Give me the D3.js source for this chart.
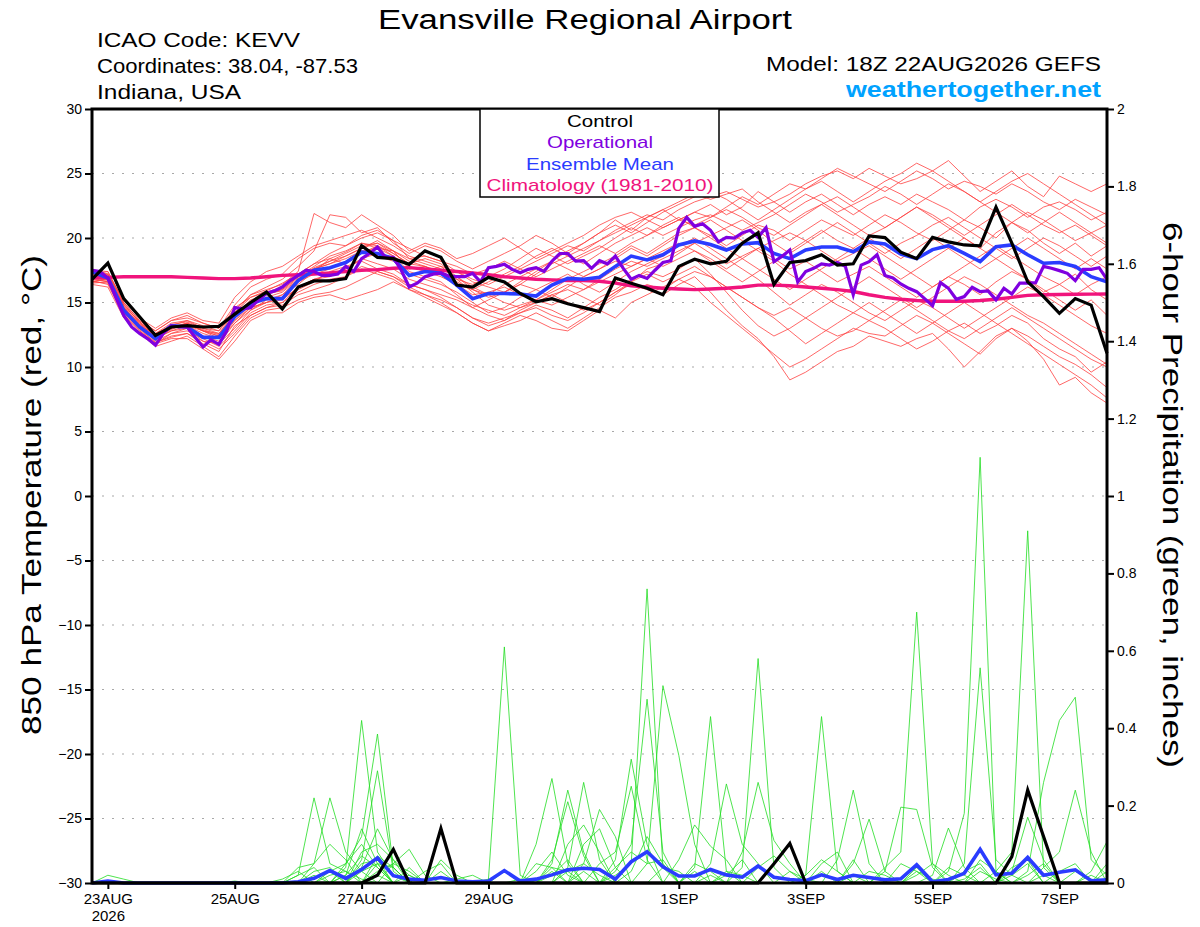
<!DOCTYPE html>
<html><head><meta charset="utf-8">
<script src="https://cdn.jsdelivr.net/npm/d3@7"></script>
<style>
body{margin:0;background:#fff}
svg{display:block}
text{font-family:"Liberation Sans",Arial,Helvetica,sans-serif}
</style>
</head><body>
<svg id="c" width="1200" height="927"></svg>
<script>
// ---------------- DATA ----------------
const runStart = Date.UTC(2026, 7, 22, 18);   // 18Z 22AUG2026
const forecastHours = 384;
const dateTickLabels = ["23AUG", "25AUG", "27AUG", "29AUG", "1SEP", "3SEP", "5SEP", "7SEP"];
const dateTickDays = ["2026-08-23", "2026-08-25", "2026-08-27", "2026-08-29", "2026-09-01", "2026-09-03", "2026-09-05", "2026-09-07"];
const tempTicks = [-30, -25, -20, -15, -10, -5, 0, 5, 10, 15, 20, 25, 30];
const precipTicks = [0, 0.2, 0.4, 0.6, 0.8, 1, 1.2, 1.4, 1.6, 1.8, 2];
const legendItems = ["Control", "Operational", "Ensemble Mean", "Climatology (1981-2010)"];

// 850 hPa temperature, 6-hourly
const controlTemp = [16.8,18.06,15.3,13.9,12.45,13.1,13.2,13.1,13.15,14.1,
 15.0,15.8,14.5,16.2,16.67,16.67,16.85,19.4,18.5,18.4,
 17.96,19.0,18.5,16.35,16.2,16.95,16.6,15.7,15.06,15.3,
 14.9,14.6,14.3,16.9,16.5,16.1,15.6,17.8,18.35,18.0,
 18.2,19.6,20.4,16.4,18.1,18.25,18.7,17.9,18.0,20.16,
 20.03,18.9,18.4,20.05,19.7,19.46,19.4,22.4,19.6,16.6,
 15.46,14.16,15.3,14.8,11.06];
const meanTemp = [17.4,16.9,14.4,13.1,12.2,13.2,13.1,12.3,12.3,13.9,
 14.9,15.3,15.3,16.7,17.5,17.7,18.1,18.9,18.8,18.4,
 17.1,17.4,17.26,16.35,15.3,15.7,15.7,15.66,15.5,16.35,
 16.87,16.8,16.95,17.8,18.6,18.3,18.7,19.46,19.77,19.5,
 19.07,19.54,19.64,18.8,18.4,19.07,19.3,19.3,18.94,19.7,
 19.54,18.76,18.4,19.1,19.4,18.8,18.17,19.33,19.46,18.7,
 18.04,18.1,17.8,17.0,16.6];
const climTemp = [16.9,16.95,17.0,17.0,17.0,17.0,16.95,16.9,16.85,16.85,
 16.9,17.0,17.1,17.15,17.2,17.3,17.4,17.5,17.55,17.65,
 17.7,17.6,17.5,17.4,17.3,17.15,17.0,16.9,16.8,16.75,
 16.7,16.7,16.65,16.5,16.3,16.2,16.1,16.05,16.0,16.05,
 16.1,16.2,16.35,16.35,16.3,16.2,16.1,16.0,15.85,15.6,
 15.4,15.25,15.15,15.1,15.1,15.1,15.15,15.25,15.4,15.55,
 15.6,15.62,15.64,15.65,15.66];
// operational run, 3-hourly
const operTemp = [17.5,17.4,16.9,15.4,14.0,13.1,12.6,12.2,11.7,12.6,
 13.2,13.1,13.1,12.3,11.55,12.1,11.75,12.8,14.6,14.5,
 14.6,15.2,15.7,15.9,16.2,16.7,17.1,17.5,17.4,17.1,
 17.1,17.2,17.8,17.4,18.4,18.8,19.3,18.5,18.5,17.5,
 16.2,16.5,17.0,17.2,17.3,17.05,17.0,17.0,17.26,16.6,
 17.7,17.8,17.96,17.57,17.3,17.57,17.7,17.4,18.2,18.8,
 18.8,18.2,18.24,17.65,18.24,18.0,18.6,17.65,16.8,17.1,
 16.87,17.5,18.1,18.24,20.75,21.6,20.9,21.1,20.6,19.7,
 20.05,20.0,20.4,20.6,20.05,20.8,18.17,18.56,19.07,16.6,
 17.4,17.65,18.0,17.9,18.1,17.8,15.6,17.9,18.17,18.7,
 17.1,16.9,16.44,16.1,15.84,15.3,14.75,16.54,16.1,15.25,
 15.46,16.18,15.84,15.9,15.2,16.1,15.66,16.5,16.5,16.54,
 17.8,17.65,17.47,17.26,16.7,17.57,17.57,17.7,16.8];
// ensemble members, 6-hourly
const memberTemps = [
 [17.0,17.2,14.8,13.5,12.6,13.4,13.6,13.2,12.8,14.6,15.4,15.9,16.5, 17.2,18.0,18.4,18.9,19.6,19.2,19.0,18.4,18.6,18.2,17.4,16.8, 16.4,17.0,17.6,18.2,18.8,19.4,19.0,19.8,20.6,21.2,21.8,21.4, 22.2,22.8,23.2,23.6,23.0,22.4,22.8,23.4,24.2,24.8,25.2,24.6, 25.4,24.8,24.2,24.6,25.2,26.0,24.8,23.6,24.4,25.2,24.0,23.2,24.8,24.2,23.6,24.2],
 [16.6,16.8,14.2,13.0,11.9,12.4,12.6,11.8,11.2,13.2,14.0,14.6,14.8, 15.6,16.0,16.4,17.0,17.6,17.2,16.8,16.0,15.6,15.2,14.6,13.8, 13.4,13.8,14.2,14.6,14.0,13.6,14.2,15.0,15.8,16.4,16.0,15.6, 16.4,17.0,15.8,14.4,13.2,12.2,10.8,9.0,9.6,10.4,11.2,11.6, 12.4,12.0,11.6,12.2,12.6,11.4,10.0,11.2,12.4,13.0,12.0,10.6,8.6,9.2,8.0,7.2],
 [17.4,17.0,14.6,13.0,12.2,13.0,13.4,12.8,12.6,14.0,15.2,15.6,16.0, 17.0,17.6,18.2,18.6,19.2,19.8,19.0,17.6,17.8,17.2,16.4,15.6, 15.8,16.2,15.6,15.2,16.0,16.8,17.4,18.0,18.6,19.4,18.8,19.6, 20.4,20.8,20.2,19.4,20.2,21.0,20.6,19.8,20.6,21.4,20.8,20.2, 21.0,21.8,21.2,20.4,19.8,20.6,21.4,20.8,20.0,21.2,22.0,21.4,20.6,19.8,20.4,19.6],
 [16.8,16.6,14.0,12.8,11.8,12.6,12.8,12.2,11.6,12.8,14.2,14.8,15.0, 16.2,16.8,17.2,17.6,18.4,18.8,18.4,17.0,17.4,17.8,16.8,15.8, 14.8,14.4,14.8,15.2,15.8,16.4,16.0,16.8,17.6,18.2,17.8,18.4, 19.0,19.6,18.8,18.0,18.6,19.2,18.4,17.6,18.2,17.4,16.6,17.2, 17.8,17.0,16.2,15.4,16.2,17.0,16.4,15.6,16.6,17.4,16.8,15.8,16.4,17.2,16.0,15.2],
 [17.2,17.4,15.0,13.6,12.8,13.6,13.8,13.4,13.0,14.4,15.6,16.2,16.8, 17.8,19.0,21.8,21.6,20.4,20.8,19.6,18.8,19.4,19.0,18.2,17.6, 18.2,18.8,19.4,20.2,19.6,18.8,19.6,20.4,21.4,20.6,21.6,22.2, 21.4,22.0,22.6,21.8,22.4,23.6,22.8,22.0,22.8,23.4,22.6,21.8, 22.6,23.2,22.6,23.4,22.8,22.2,21.4,22.4,23.0,22.4,21.6,22.4,22.8,22.2,21.4,22.0],
 [16.4,16.2,13.8,12.6,11.6,12.0,12.4,11.6,10.8,12.4,13.8,14.4,14.6, 15.2,15.6,15.8,16.2,16.8,17.4,17.0,16.2,15.6,15.0,14.2,13.4, 12.8,13.2,13.6,14.2,13.6,13.0,13.8,14.6,15.4,15.8,16.4,16.0, 16.8,17.4,17.0,16.2,15.4,14.6,14.0,14.6,13.8,13.0,12.4,12.8, 13.6,13.0,12.2,11.4,12.0,12.8,13.4,12.6,13.2,14.0,13.4,12.2,11.4,10.8,9.6,10.4],
 [17.6,17.2,15.2,13.8,13.0,13.8,14.2,13.6,13.4,15.4,16.6,17.4,17.8, 18.6,19.4,19.8,20.2,20.6,20.0,19.4,18.6,18.2,17.8,17.4,16.6, 16.2,15.8,16.4,17.2,18.0,18.6,19.2,19.8,20.4,21.0,21.6,22.2, 22.8,23.4,23.0,23.4,23.8,22.8,22.0,21.2,22.0,22.6,23.2,22.4, 21.6,20.8,21.6,22.4,21.6,20.8,20.0,19.2,20.4,21.2,20.6,19.6,18.8,19.6,18.6,19.4],
 [16.9,16.6,14.4,13.2,12.0,12.6,13.0,12.0,11.8,13.4,14.6,15.0,15.4, 16.6,17.2,17.6,18.2,19.0,18.6,18.2,17.2,16.8,16.4,15.8,15.0, 14.2,14.6,15.4,16.0,16.6,17.2,16.4,15.8,16.6,17.4,18.0,18.6, 19.4,20.0,19.2,18.4,17.6,16.8,15.8,14.8,15.6,16.4,15.8,15.0, 14.2,13.6,14.4,15.2,14.6,13.8,13.0,13.8,14.6,15.4,16.2,15.6,14.8,14.0,13.2,12.6],
 [17.0,17.0,14.6,13.4,12.4,13.2,13.2,12.6,12.2,13.8,15.0,15.2,15.6, 16.8,17.6,18.0,18.6,19.2,19.6,18.8,18.0,18.4,18.0,17.0,16.0, 15.6,15.0,14.6,15.0,15.6,16.0,15.4,14.8,15.6,16.6,17.6,18.0, 18.8,19.6,20.2,20.8,21.4,20.6,19.6,18.8,19.6,20.4,21.2,20.4, 19.6,18.8,19.6,20.2,21.0,21.6,20.8,20.0,19.2,18.4,19.2,20.0,19.4,18.6,17.8,18.6],
 [16.6,16.9,14.2,13.0,12.2,12.8,13.0,12.4,11.8,13.0,14.4,15.0,15.6, 16.4,17.4,18.4,18.0,18.8,19.4,18.6,17.4,17.0,16.6,15.6,14.6, 14.0,13.6,14.2,14.8,14.4,13.8,14.6,15.4,16.0,16.8,17.4,17.0, 17.6,18.4,17.2,15.8,14.4,13.2,12.4,13.0,13.8,14.6,15.4,16.2, 17.0,16.2,15.4,14.6,15.4,16.2,17.0,16.4,15.6,14.8,14.0,13.4,12.6,11.8,11.0,10.2],
 [17.3,17.2,14.9,13.4,12.6,13.2,13.6,13.0,12.8,14.2,15.6,16.0,16.4, 17.4,21.9,21.2,20.8,21.8,21.0,20.2,19.0,19.6,19.2,18.4,18.8, 19.4,20.0,19.2,18.4,19.0,19.6,20.2,21.0,21.6,22.0,21.4,20.8, 21.4,22.0,21.6,22.4,23.2,22.6,23.4,24.2,23.8,24.6,25.4,24.8, 24.2,23.6,24.4,25.2,24.6,23.8,24.4,24.0,23.4,24.2,23.6,22.8,22.2,23.0,22.4,21.8],
 [16.7,16.4,14.0,12.8,11.8,12.2,12.2,11.4,10.6,12.0,13.6,14.2,14.2, 15.0,15.4,15.6,15.2,15.6,16.0,16.6,16.0,15.4,14.8,14.2,13.4, 12.8,13.4,14.0,13.6,13.0,12.8,13.6,14.4,13.8,15.0,15.6,16.2, 16.8,16.2,15.0,14.0,13.0,12.0,11.0,10.0,10.6,11.4,12.2,13.0, 12.6,12.4,13.2,14.0,13.4,12.6,11.8,11.0,12.2,13.0,12.4,11.6,10.8,10.2,9.4,8.4],
 [17.1,16.8,14.4,13.0,12.2,12.8,13.2,12.8,12.4,13.6,14.8,15.4,15.8, 16.8,17.6,18.0,18.4,19.0,19.2,18.6,17.8,17.4,17.0,16.4,16.0, 16.6,17.2,17.8,18.6,19.2,18.6,18.0,18.8,19.6,20.2,20.8,20.2, 20.8,21.4,21.8,21.2,20.6,21.2,21.8,22.6,23.4,22.8,22.0,22.6, 23.2,24.0,23.4,22.6,23.4,24.2,23.6,22.8,23.6,24.4,25.0,24.2,23.4,22.6,21.8,21.0],
 [16.5,16.6,14.3,13.2,12.6,13.0,13.4,12.8,12.2,13.4,14.4,15.2,15.4, 16.0,16.6,17.4,17.8,18.2,17.6,17.2,16.4,16.0,15.6,15.2,14.6, 15.2,15.8,16.4,16.0,15.4,16.2,17.0,17.6,18.2,17.8,18.4,19.0, 19.6,19.0,18.4,17.6,18.4,19.2,19.8,20.4,19.8,19.0,18.2,18.8, 19.4,18.6,17.8,17.0,16.2,17.0,17.8,18.6,19.4,18.6,17.8,17.0,16.4,15.6,16.4,17.0],
 [17.5,17.4,15.0,13.6,12.8,13.6,14.0,13.4,13.0,14.8,16.2,16.8,17.2, 18.4,19.2,19.6,19.4,20.2,20.6,19.8,19.2,18.6,18.2,17.8,17.2, 17.6,18.2,17.6,17.0,17.6,18.2,18.8,19.4,18.8,19.6,20.2,20.8, 21.4,21.0,21.6,22.2,21.6,20.8,20.2,21.0,21.8,22.6,21.8,21.0, 20.2,20.8,21.6,22.4,21.8,21.0,20.2,21.0,21.8,22.6,21.8,21.0,20.4,21.0,20.2,19.4],
 [16.8,17.0,14.7,13.3,12.4,13.0,13.2,12.4,12.0,13.6,14.6,15.0,15.2, 16.2,16.8,17.0,17.6,18.4,18.0,17.6,16.8,16.4,16.0,15.4,14.8, 14.4,14.0,14.6,15.2,14.8,15.4,16.0,16.6,17.2,17.8,18.4,17.8, 18.4,19.0,18.2,17.4,16.6,17.4,18.2,17.2,16.4,15.6,14.8,14.2, 13.6,14.4,15.2,14.4,13.6,12.8,12.2,13.0,13.8,14.6,13.8,13.0,12.2,11.4,10.6,10.0],
 [17.0,16.7,14.5,13.1,12.3,12.9,13.4,12.8,12.4,14.0,15.0,15.8,16.2, 17.2,18.0,18.8,19.4,20.0,20.4,19.8,18.4,18.0,17.6,17.0,16.2, 15.6,16.4,17.0,17.6,18.2,17.6,17.0,17.6,18.4,19.2,18.6,19.4, 20.2,20.8,21.4,20.6,19.8,19.0,18.2,19.0,19.8,20.6,19.8,19.2, 20.0,19.2,18.4,19.2,20.0,19.2,18.4,17.6,18.4,19.2,20.0,19.2,18.4,17.6,18.4,17.6],
 [16.6,16.5,14.1,12.9,11.9,12.3,12.6,12.0,11.4,12.6,14.0,14.6,15.0, 15.8,16.4,16.8,17.0,17.8,17.4,17.0,16.4,16.0,15.4,14.6,13.8, 13.2,13.6,14.4,15.0,15.6,15.0,14.4,15.0,15.8,16.6,17.2,16.6, 17.2,17.8,17.0,16.2,15.4,14.6,13.8,12.8,11.8,12.6,13.4,14.2, 15.0,14.2,13.4,12.6,13.4,14.2,15.0,14.2,13.4,12.6,11.8,11.0,10.2,9.4,8.6,7.6],
 [17.2,17.1,14.8,13.5,12.5,13.3,13.5,13.0,12.6,14.2,15.4,15.8,16.0, 17.0,17.8,18.6,19.0,19.6,19.4,18.8,18.0,17.8,17.2,16.6,16.0, 15.4,15.8,16.6,17.4,18.2,19.0,19.6,20.4,21.0,20.4,21.2,22.0, 22.6,23.2,23.6,23.0,22.2,21.4,22.2,23.0,23.8,24.4,23.6,22.8, 23.6,24.4,25.0,25.8,25.2,24.4,23.6,22.8,22.0,21.2,20.4,21.2,22.0,21.2,20.4,21.0],
 [16.9,16.8,14.6,13.3,12.4,13.1,13.4,12.9,12.5,13.9,15.1,15.7,15.9, 16.9,17.7,18.2,18.8,19.4,19.6,19.0,18.2,17.8,17.4,16.8,16.4, 17.0,17.6,18.4,19.2,18.6,18.0,18.6,19.2,20.0,20.8,20.2,21.0, 21.6,20.8,20.0,19.2,18.4,17.6,16.8,16.0,16.8,17.6,18.4,19.2, 18.4,17.6,16.8,17.6,18.4,19.2,20.0,19.2,18.4,17.6,16.8,16.0,15.2,14.4,15.2,14.0]
];

// 6-hour precipitation (inches), 6-hourly
const controlPrecip = [0,0,0,0,0,0,0,0,0,0, 0,0,0,0,0,0,0,0,0.02,0.087, 0,0,0.141,0,0,0,0,0,0,0, 0,0,0,0,0,0,0,0,0,0,
 0,0,0,0.05,0.102,0,0,0,0,0, 0,0,0,0,0,0,0,0,0.068,0.24, 0.12,0,0,0,0];
const meanPrecip = [0,0.005,0,0,0,0,0,0,0,0, 0,0,0,0.003,0.012,0.032,0.012,0.035,0.065,0.019,
 0.01,0.007,0.014,0.005,0.003,0.005,0.032,0.005,0.01,0.021, 0.034,0.038,0.035,0.01,0.055,0.081,0.042,0.018,0.018,0.035,
 0.021,0.015,0.044,0.015,0.009,0.006,0.021,0.009,0.02,0.014, 0.008,0.011,0.047,0.003,0.009,0.025,0.087,0.021,0.025,0.066,
 0.02,0.028,0.034,0.006,0.008];
const memberPrecips = [
 [0,0,0,0,0,0,0,0,0,0, 0,0,0,0.02,0.22,0.05,0.03,0.01,0,0, 0,0,0,0,0,0.01,0.61,0.02,0,0, 0.03,0.05,0.02,0,0,0,0,0,0,0, 0,0,0,0,0,0.02,0.43,0.03,0,0, 0,0,0,0,0,0.01,0.04,0,0,0, 0,0,0,0,0],
 [0,0,0,0,0,0,0,0,0,0, 0,0,0,0,0,0,0.04,0.42,0.08,0.02, 0,0,0,0,0,0,0,0,0,0.02, 0.06,0,0,0.02,0.05,0.76,0.04,0,0,0.02, 0,0,0,0,0,0,0,0,0,0, 0,0,0.03,0.01,0,0,0.03,0.01,0,0, 0,0,0,0,0],
 [0,0,0,0,0,0,0,0,0,0, 0,0,0,0,0,0.03,0.05,0.12,0.385,0.04, 0,0,0,0,0,0,0,0,0.03,0.08, 0.02,0,0,0,0,0,0,0,0,0, 0,0.04,0.58,0.04,0,0,0,0,0.02,0, 0,0,0,0,0,0,0,0,0.02,0.05, 0,0,0,0,0],
 [0,0,0,0,0,0,0,0,0,0, 0,0,0,0,0.02,0,0,0.06,0.29,0.03, 0,0,0,0,0,0,0,0,0,0, 0,0.10,0.14,0.04,0,0,0,0,0.03,0, 0,0,0,0,0,0,0,0,0,0, 0.04,0.08,0.70,0.05,0,0,0,0,0,0, 0.02,0,0,0,0],
 [0,0,0,0,0,0,0,0,0,0, 0,0,0,0,0.05,0.22,0.08,0.03,0,0, 0,0.03,0.05,0,0,0,0,0,0,0, 0,0,0,0,0.03,0.12,0.05,0,0,0, 0,0,0,0,0,0,0,0,0,0, 0,0,0,0,0.03,0.18,1.10,0.03,0,0, 0,0,0,0.02,0],
 [0,0,0,0,0,0,0,0,0,0, 0,0,0,0.04,0.05,0.10,0.06,0,0,0, 0,0,0,0,0,0,0,0,0.10,0.27, 0.05,0,0,0,0,0,0,0,0,0, 0.02,0.06,0,0,0,0,0,0,0,0, 0,0,0,0,0,0,0,0.03,0.08,0.91, 0.04,0,0,0,0],
 [0,0,0,0,0,0,0,0,0,0, 0,0,0,0,0,0,0,0.04,0.14,0.06, 0.02,0,0,0,0,0,0,0,0,0.05, 0.24,0.08,0,0,0,0,0,0,0,0, 0,0,0,0,0.03,0.01,0,0,0,0, 0,0,0,0,0,0.05,0.556,0.06,0.02,0, 0,0,0,0,0],
 [0,0,0,0,0,0,0,0,0,0, 0,0,0.01,0.03,0,0,0.02,0.14,0.05,0, 0,0,0,0,0,0,0,0,0,0, 0.04,0.26,0.06,0,0,0,0,0,0,0, 0,0,0,0,0,0,0.05,0.08,0,0, 0,0,0,0,0,0,0,0,0,0.03, 0.26,0.42,0.48,0.06,0.02],
 [0,0,0,0,0,0,0,0,0,0, 0,0,0,0,0,0,0,0,0.03,0.05, 0.087,0.02,0,0,0,0,0,0,0,0, 0,0,0,0.06,0.32,0.10,0,0,0.04,0.43, 0.03,0,0,0,0,0,0,0,0,0, 0,0,0.02,0.05,0.02,0,0,0,0,0, 0,0,0,0,0],
 [0,0,0,0,0,0,0,0,0,0, 0,0,0,0,0,0,0.05,0.10,0.04,0, 0,0,0,0,0,0,0,0,0,0, 0,0,0.05,0.08,0.25,0.06,0,0,0,0.05, 0.256,0.10,0.05,0,0,0,0,0,0,0, 0,0,0,0,0,0,0,0,0,0, 0,0.03,0.05,0,0],
 [0,0,0,0,0,0,0,0,0,0, 0,0,0,0,0,0,0,0,0,0, 0,0,0.06,0.02,0,0,0.03,0,0,0, 0,0,0,0.03,0.10,0.475,0.08,0,0,0, 0,0,0,0,0,0,0,0.06,0.24,0.05, 0,0,0,0,0,0,0,0,0,0, 0,0,0,0,0.05],
 [0,0,0,0,0,0,0,0,0,0, 0,0,0,0,0.03,0.04,0,0,0,0.05, 0.03,0,0,0,0,0,0,0,0,0.03, 0,0,0,0,0,0.05,0.51,0.33,0.10,0, 0,0,0,0,0,0,0,0,0,0, 0,0,0,0.02,0.142,0.04,0,0,0,0, 0,0,0,0,0],
 [0,0,0,0,0,0,0,0,0,0, 0,0,0,0,0,0,0,0.08,0.10,0.06, 0,0,0,0,0,0,0,0,0,0, 0,0.05,0.19,0.12,0,0,0,0,0,0, 0,0.08,0.26,0.11,0.05,0,0,0,0,0, 0,0,0,0,0,0,0,0,0.03,0.17, 0.06,0,0,0,0],
 [0,0,0,0,0,0,0,0,0,0, 0,0,0,0,0,0,0,0,0.05,0.04, 0,0,0,0,0,0,0,0,0,0, 0.10,0.15,0.08,0,0,0,0,0,0,0, 0,0,0,0,0,0,0,0,0.05,0.165, 0.03,0,0,0,0,0,0,0,0,0, 0.04,0.08,0.24,0.08,0],
 [0,0,0,0,0,0,0,0,0,0, 0,0,0,0,0,0.02,0.03,0,0,0, 0,0,0,0,0,0,0,0,0.05,0.04, 0,0,0,0,0,0,0,0.06,0.15,0.095, 0.06,0,0,0,0,0,0,0,0,0, 0.03,0.196,0.19,0.04,0,0,0,0,0,0, 0,0,0,0.03,0.107],
 [0,0,0,0,0,0,0,0,0,0, 0,0,0,0,0,0,0,0.05,0.06,0, 0.04,0,0.03,0,0,0,0,0,0,0.06, 0.21,0.07,0,0,0,0,0,0,0,0, 0,0,0,0,0,0.02,0.06,0.03,0,0, 0,0,0,0,0,0,0,0,0,0.02, 0.05,0,0,0,0],
 [0,0,0,0,0,0,0,0,0,0, 0,0,0,0.02,0.04,0,0,0,0.07,0.04, 0,0,0,0,0,0,0,0,0,0, 0,0,0,0.04,0.08,0.05,0.06,0,0,0, 0,0,0.04,0.07,0.03,0,0,0,0.06,0, 0,0,0,0,0.04,0.02,0,0,0,0, 0,0,0,0,0],
 [0,0.02,0.01,0,0,0,0,0,0,0.005, 0,0,0,0,0,0,0,0.03,0.05,0, 0,0,0,0.01,0.02,0,0,0,0,0, 0,0,0,0,0,0,0.04,0.03,0,0, 0,0,0,0,0,0,0.03,0,0,0, 0,0,0.04,0,0,0,0.06,0.03,0,0, 0,0,0,0,0],
 [0,0,0,0,0,0,0,0,0,0, 0,0,0,0,0.01,0.03,0,0,0.02,0, 0,0,0,0,0,0,0,0.01,0,0, 0,0.03,0,0,0,0,0,0,0.05,0.03, 0,0,0,0,0,0,0,0,0,0.03, 0.02,0,0,0,0,0.03,0.05,0,0,0, 0,0,0.03,0.01,0],
 [0,0,0,0,0,0,0,0,0,0, 0,0,0,0,0,0,0.02,0.07,0.04,0, 0.02,0,0,0,0,0,0,0,0,0.04, 0.03,0,0,0,0,0,0,0,0,0, 0.03,0.02,0,0,0,0,0,0,0,0, 0,0.05,0.03,0,0,0,0,0,0.04,0.06, 0,0,0,0,0.03]
];

// ---------------- DRAW ----------------
const svg = d3.select("#c");
const L = 92, R = 1107, T = 109, B = 883;
const hour = 3600e3;
const x = d3.scaleUtc().domain([new Date(runStart), new Date(runStart + forecastHours * hour)]).range([L, R]);
const yT = d3.scaleLinear().domain([-30, 30]).range([B, T]);
const yP = d3.scaleLinear().domain([0, 2]).range([B, T]);

const t6 = i => new Date(runStart + i * 6 * hour);
const t3 = i => new Date(runStart + i * 3 * hour);
const lineT6 = d3.line().x((d, i) => x(t6(i))).y(d => yT(d));
const lineT3 = d3.line().x((d, i) => x(t3(i))).y(d => yT(d));
const lineP6 = d3.line().x((d, i) => x(t6(i))).y(d => yP(d));

svg.append("rect").attr("width", 1200).attr("height", 927).attr("fill", "#fff");

// grid
svg.append("g").selectAll("line").data(tempTicks.filter(v => v > -30 && v < 30)).join("line")
  .attr("x1", L).attr("x2", R).attr("y1", d => yT(d)).attr("y2", d => yT(d))
  .attr("stroke", "#a8a8a8").attr("stroke-width", 1.2).attr("stroke-dasharray", "2,8");

const plot = svg.append("g");
// ensemble members
plot.append("g").selectAll("path").data(memberTemps).join("path")
  .attr("d", lineT6).attr("fill", "none").attr("stroke", "#ff4040").attr("stroke-width", 0.8);
plot.append("g").selectAll("path").data(memberPrecips).join("path")
  .attr("d", lineP6).attr("fill", "none").attr("stroke", "#22dd22").attr("stroke-width", 0.8);

// thick lines
plot.append("path").datum(climTemp).attr("d", lineT6).attr("fill", "none").attr("stroke", "#f0147c").attr("stroke-width", 3.4);
plot.append("path").datum(meanPrecip).attr("d", lineP6).attr("fill", "none").attr("stroke", "#2a3cff").attr("stroke-width", 3.6);
plot.append("path").datum(meanTemp).attr("d", lineT6).attr("fill", "none").attr("stroke", "#2a3cff").attr("stroke-width", 3.6);
plot.append("path").datum(operTemp).attr("d", lineT3).attr("fill", "none").attr("stroke", "#8000e0").attr("stroke-width", 3.2);
plot.append("path").datum(controlPrecip).attr("d", lineP6).attr("fill", "none").attr("stroke", "#000").attr("stroke-width", 3.2);
plot.append("path").datum(controlTemp).attr("d", lineT6).attr("fill", "none").attr("stroke", "#000").attr("stroke-width", 3.2);

// axes
const axL = d3.axisLeft(yT).tickValues(tempTicks).tickSize(7).tickPadding(3).tickFormat(d3.format("d"));
const axR = d3.axisRight(yP).tickValues(precipTicks).tickSize(7).tickPadding(3).tickFormat(d => d3.format("~g")(d));
const tickDates = dateTickDays.map(s => new Date(s + "T00:00:00Z"));
const axB = d3.axisBottom(x).tickValues(tickDates).tickSize(6).tickPadding(4).tickFormat((d, i) => dateTickLabels[i]);

function styleAxis(g) {
  g.select(".domain").remove();
  g.selectAll(".tick line").attr("stroke", "#000").attr("stroke-width", 2);
  g.selectAll(".tick text").attr("fill", "#000").attr("font-family", '"Liberation Sans",Arial,sans-serif');
}
svg.append("g").attr("transform", `translate(${L},0)`).call(axL).call(styleAxis).selectAll(".tick text").attr("font-size", 14);
svg.append("g").attr("transform", `translate(${R},0)`).call(axR).call(styleAxis).selectAll(".tick text").attr("font-size", 14);
const gb = svg.append("g").attr("transform", `translate(0,${B})`).call(axB).call(styleAxis);
gb.selectAll(".tick text").attr("font-size", 15);
gb.select(".tick text").each(function () {
  d3.select(this).append("tspan").attr("x", 0).attr("dy", "1.15em").text("2026");
});

// frame
svg.append("rect").attr("x", L).attr("y", T).attr("width", R - L).attr("height", B - T)
  .attr("fill", "none").attr("stroke", "#000").attr("stroke-width", 3);

// legend box
const lg = svg.append("g");
lg.append("rect").attr("x", 480).attr("y", T).attr("width", 239).attr("height", 88)
  .attr("fill", "#fff").attr("stroke", "#000").attr("stroke-width", 1.5);
const legendColors = ["#000", "#8000e0", "#2a3cff", "#f0147c"];
const legendWidths = [66, 106, 148, 227];
lg.selectAll("text.lg").data(legendItems).join("text").attr("class", "lg")
  .attr("x", 600).attr("y", (d, i) => 127 + i * 21.4).attr("text-anchor", "middle")
  .attr("font-size", 17).attr("fill", (d, i) => legendColors[i])
  .attr("textLength", (d, i) => legendWidths[i]).attr("lengthAdjust", "spacingAndGlyphs")
  .text(d => d);

// titles
function txt(s, xx, yy, size, len, opts = {}) {
  const t = svg.append("text").attr("x", xx).attr("y", yy).attr("font-size", size)
    .attr("fill", opts.fill || "#000").attr("text-anchor", opts.anchor || "start")
    .attr("font-weight", opts.weight || "normal").text(s);
  if (len) t.attr("textLength", len).attr("lengthAdjust", "spacingAndGlyphs");
  if (opts.transform) t.attr("transform", opts.transform);
  return t;
}
txt("Evansville Regional Airport", 378, 29, 27, 414);
txt("ICAO Code: KEVV", 97, 47, 20, 203);
txt("Coordinates: 38.04, -87.53", 97, 73, 20, 261);
txt("Indiana, USA", 97, 99, 20, 144);
txt("Model: 18Z 22AUG2026 GEFS", 1101, 71, 20, 335, { anchor: "end" });
txt("weathertogether.net", 1101, 97, 22, 255, { anchor: "end", weight: "bold", fill: "#00a2ff" });
txt("850 hPa Temperature (red, \u00B0C)", 0, 0, 27, 480, { anchor: "middle", transform: "translate(41,495) rotate(-90)" });
txt("6-hour Precipitation (green, inches)", 0, 0, 27, 546, { anchor: "middle", transform: "translate(1163,495) rotate(90)" });
</script>
</body></html>
